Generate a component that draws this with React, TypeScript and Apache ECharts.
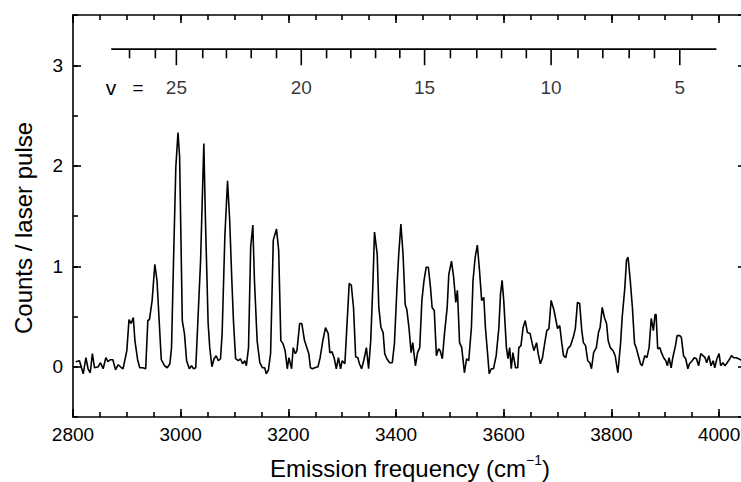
import React, { useEffect, useRef } from 'react';
import * as echarts from 'echarts';

// Spectrum (emission frequency in cm^-1, counts per laser pulse)
const frequency = [
  2805, 2812, 2819, 2824, 2828, 2832, 2836, 2840, 2847, 2851, 2856, 2861, 2865, 2869, 2874, 2879, 2884, 2890, 2893,
  2900, 2904, 2908, 2912, 2915, 2920, 2924, 2930, 2935, 2939, 2942, 2947, 2952, 2956, 2960, 2964, 2970, 2975, 2980,
  2983, 2987, 2991, 2995, 2998, 3003, 3007, 3011, 3016, 3020, 3024, 3028, 3032, 3037, 3043, 3046, 3051, 3054, 3058,
  3062, 3066, 3070, 3074, 3077, 3082, 3087, 3091, 3095, 3098, 3102, 3107, 3111, 3115, 3119, 3122, 3126, 3130, 3134,
  3137, 3142, 3147, 3152, 3156, 3159, 3163, 3167, 3172, 3178, 3182, 3186, 3190, 3194, 3198, 3201, 3206, 3209, 3213,
  3216, 3221, 3225, 3230, 3235, 3238, 3241, 3245, 3249, 3255, 3259, 3264, 3269, 3274, 3277, 3281, 3285, 3289, 3293,
  3297, 3300, 3305, 3308, 3313, 3317, 3321, 3325, 3329, 3332, 3336, 3340, 3345, 3349, 3353, 3357, 3360, 3365, 3368,
  3372, 3376, 3379, 3383, 3388, 3393, 3397, 3402, 3405, 3409, 3413, 3417, 3420, 3424, 3428, 3431, 3436, 3440, 3444,
  3448, 3452, 3456, 3460, 3464, 3467, 3471, 3475, 3479, 3482, 3486, 3490, 3495, 3498, 3503, 3507, 3511, 3514, 3518,
  3522, 3527, 3531, 3535, 3540, 3543, 3547, 3551, 3555, 3559, 3563, 3566, 3570, 3573, 3577, 3581, 3586, 3591, 3594,
  3597, 3600, 3605, 3608, 3611, 3614, 3617, 3622, 3626, 3628, 3632, 3636, 3640, 3644, 3649, 3653, 3656, 3661, 3664,
  3668, 3672, 3676, 3680, 3684, 3688, 3693, 3696, 3700, 3704, 3708, 3711, 3715, 3719, 3724, 3729, 3733, 3737, 3741,
  3745, 3748, 3752, 3756, 3760, 3763, 3767, 3772, 3776, 3779, 3783, 3787, 3791, 3794, 3798, 3803, 3807, 3812, 3817,
  3820, 3825, 3828, 3831, 3835, 3839, 3843, 3846, 3850, 3854, 3857, 3862, 3866, 3870, 3874, 3878, 3881, 3883, 3886,
  3890, 3893, 3897, 3901, 3904, 3907, 3911, 3914, 3919, 3922, 3927, 3930, 3934, 3938, 3942, 3945, 3950, 3954, 3958,
  3962, 3966, 3970, 3974, 3977, 3981, 3985, 3989, 3992, 3996, 4000, 4003, 4007, 4011, 4015, 4020, 4023, 4027, 4032,
  4036, 4040, 4045,
];
const counts = [
  0.05, 0.06, -0.07, 0.09, -0.02, -0.06, 0.13, -0.01, 0.0, 0.04, -0.02, 0.09, 0.05, 0.07, 0.07, -0.03, 0.02, -0.01, -0.02,
  0.16, 0.47, 0.43, 0.49, 0.26, 0.07, -0.01, -0.01, -0.02, 0.46, 0.47, 0.66, 1.02, 0.86, 0.46, 0.07, 0.01, -0.01, 0.03,
  0.19, 1.12, 1.99, 2.33, 2.09, 0.46, 0.33, 0.06, -0.02, 0.01, -0.02, -0.01, 0.46, 1.06, 2.22, 1.46, 0.43, 0.19, 0.0,
  0.08, 0.11, 0.06, 0.08, 0.33, 1.29, 1.85, 1.46, 0.86, 0.46, 0.08, 0.06, 0.08, 0.03, 0.06, 0.01, 0.19, 1.19, 1.41,
  0.86, 0.26, 0.04, -0.01, -0.01, -0.07, -0.03, 0.13, 1.26, 1.37, 1.16, 0.26, 0.23, 0.16, -0.02, 0.09, -0.02, 0.19, 0.13,
  0.16, 0.43, 0.43, 0.26, 0.18, 0.13, -0.01, -0.02, -0.01, 0.0, 0.09, 0.26, 0.39, 0.33, 0.14, 0.15, 0.09, -0.02, 0.09,
  -0.02, 0.06, 0.03, 0.33, 0.83, 0.81, 0.59, 0.1, 0.09, 0.03, -0.02, 0.06, 0.19, -0.02, 0.26, 0.82, 1.34, 1.12, 0.59,
  0.39, 0.34, 0.13, 0.08, 0.04, 0.04, 0.23, 0.82, 1.12, 1.42, 1.12, 0.62, 0.57, 0.39, 0.14, 0.24, 0.01, 0.14, 0.19,
  0.66, 0.86, 0.99, 0.99, 0.79, 0.59, 0.56, 0.11, 0.18, 0.16, 0.08, 0.33, 0.59, 0.92, 1.05, 0.89, 0.64, 0.76, 0.24,
  0.19, -0.06, 0.08, 0.06, 0.39, 0.86, 1.09, 1.21, 0.96, 0.66, 0.69, 0.39, 0.13, -0.07, -0.02, -0.02, 0.11, 0.39, 0.72,
  0.86, 0.66, 0.19, 0.08, 0.19, -0.02, 0.14, -0.01, -0.01, 0.19, 0.21, 0.39, 0.46, 0.34, 0.33, 0.23, 0.16, 0.24, 0.13,
  0.03, 0.09, 0.23, 0.36, 0.38, 0.66, 0.57, 0.49, 0.38, 0.41, 0.23, 0.11, 0.09, 0.18, 0.21, 0.29, 0.38, 0.64, 0.63,
  0.36, 0.24, 0.21, 0.06, 0.04, -0.02, 0.14, 0.19, 0.34, 0.39, 0.59, 0.49, 0.43, 0.26, 0.19, 0.16, 0.11, -0.06, 0.23,
  0.49, 0.79, 1.06, 1.09, 0.86, 0.59, 0.23, 0.19, 0.11, 0.03, 0.01, 0.11, 0.09, 0.19, 0.48, 0.36, 0.52, 0.52, 0.18,
  0.19, 0.14, 0.09, 0.06, 0.01, 0.09, -0.01, 0.09, 0.21, 0.31, 0.31, 0.29, 0.11, 0.08, -0.02, 0.03, 0.06, 0.09, 0.08,
  0.01, 0.13, 0.11, 0.09, 0.04, 0.11, 0.01, 0.06, -0.01, 0.08, 0.13, 0.01, 0.04, 0.01, 0.04, 0.08, 0.11, 0.09, 0.09,
  0.08, 0.07, 0.05,
];

// Axis scales
const X_MIN = 2800;
const X_MAX = 4050;
const X_MAJOR_STEP = 200;
const X_MINOR_STEP = 50;
const Y_MIN = -0.5;
const Y_MAX = 3.5;
const Y_MINOR_STEP = 0.5;

// Vibrational level comb (v = 27 ... 5)
const combFrequency = [
  2905, 2953, 2992, 3041, 3085, 3131, 3178, 3224, 3271, 3316, 3362, 3407, 3453, 3501, 3550, 3596, 3642, 3688,
  3738, 3784, 3833, 3880, 3927,
];
const combLevel = [27, 26, 25, 24, 23, 22, 21, 20, 19, 18, 17, 16, 15, 14, 13, 12, 11, 10, 9, 8, 7, 6, 5];
const combLabelled = [25, 20, 15, 10, 5];
const combSpan = [2871, 3995];

const COMB_Y = 3.16;
const COMB_MAJOR_END = 3.0;
const COMB_MINOR_END = 3.07;
const COMB_LABEL_Y = 2.78;

const BLACK = '#000000';
const LABEL_SIZE = 19;
const LW = 1.6;

export default function App() {
  const ref = useRef<HTMLDivElement>(null);

  useEffect(() => {
    if (!ref.current) return;
    const chart = echarts.init(ref.current, undefined, { renderer: 'svg' });
    const spectrum = frequency.map((f, i) => [f, counts[i]]);

    const combTicks: any[] = [];
    combFrequency.forEach((f, i) => {
      const major = combLabelled.includes(combLevel[i]);
      combTicks.push([f, COMB_Y], [f, major ? COMB_MAJOR_END : COMB_MINOR_END], [f, '-']);
    });
    const combLabels = combFrequency
      .map((f, i) => ({ value: [f, COMB_LABEL_Y], level: combLevel[i] }))
      .filter((d) => combLabelled.includes(d.level))
      .map((d) => ({ value: d.value, name: String(d.level) }));

    const xAxisDef = (position: string, interval: number, len: number, major: boolean, showLabel: boolean) => ({
      type: 'value',
      position,
      min: X_MIN,
      max: X_MAX,
      interval,
      splitLine: { show: false },
      axisLine: { show: major, onZero: false, lineStyle: { color: BLACK, width: LW } },
      axisTick: { show: true, inside: true, length: len, lineStyle: { color: BLACK, width: LW } },
      axisLabel: showLabel
        ? {
            show: true,
            showMaxLabel: false,
            margin: 8,
            fontSize: LABEL_SIZE,
            color: BLACK,
            formatter: (v: number) => (v % X_MAJOR_STEP === 0 ? String(v) : ''),
          }
        : { show: false },
    });
    const yAxisDef = (position: string, interval: number | undefined, len: number, major: boolean, showLabel: boolean) => ({
      type: 'value',
      position,
      min: Y_MIN,
      max: Y_MAX,
      interval,
      splitNumber: 4,
      splitLine: { show: false },
      axisLine: { show: major, onZero: false, lineStyle: { color: BLACK, width: LW } },
      axisTick: { show: true, inside: true, length: len, lineStyle: { color: BLACK, width: LW } },
      axisLabel: showLabel
        ? {
            show: true,
            showMinLabel: false,
            showMaxLabel: false,
            margin: 10,
            fontSize: LABEL_SIZE,
            color: BLACK,
            formatter: (v: number) => (Number.isInteger(v) ? String(v) : ''),
          }
        : { show: false },
    });

    chart.setOption({
      animation: false,
      grid: { left: 73, right: 0, top: 15, bottom: 65 },
      xAxis: [
        xAxisDef('bottom', X_MAJOR_STEP, 8, true, true),
        xAxisDef('bottom', X_MINOR_STEP, 5, false, false),
        xAxisDef('top', X_MAJOR_STEP, 8, true, false),
        xAxisDef('top', X_MINOR_STEP, 5, false, false),
      ],
      yAxis: [
        yAxisDef('left', undefined, 8, true, true),
        yAxisDef('left', Y_MINOR_STEP, 5, false, false),
        yAxisDef('right', undefined, 8, true, false),
        yAxisDef('right', Y_MINOR_STEP, 5, false, false),
      ],
      series: [
        {
          type: 'line',
          data: spectrum,
          symbol: 'none',
          lineStyle: { color: BLACK, width: 1.6 },
        },
        {
          type: 'line',
          data: combSpan.map((f) => [f, COMB_Y]),
          symbol: 'none',
          lineStyle: { color: BLACK, width: LW },
        },
        {
          type: 'line',
          data: combTicks,
          symbol: 'none',
          lineStyle: { color: BLACK, width: LW },
        },
        {
          type: 'scatter',
          data: combLabels,
          symbolSize: 0,
          itemStyle: { color: 'transparent' },
          label: {
            show: true,
            position: 'inside',
            formatter: (p: any) => p.name,
            fontSize: LABEL_SIZE,
            color: BLACK,
          },
        },
      ],
      graphic: [
        {
          type: 'text',
          x: 23,
          y: 228,
          rotation: Math.PI / 2,
          style: {
            text: 'Counts / laser pulse',
            fontSize: 24,
            fill: BLACK,
            align: 'center',
            verticalAlign: 'middle',
          },
        },
        {
          type: 'text',
          x: 410,
          y: 468,
          style: {
            text: 'Emission frequency (cm{sup|\u22121})',
            fontSize: 24,
            lineHeight: 30,
            fill: BLACK,
            align: 'center',
            verticalAlign: 'middle',
            rich: {
              sup: { fontSize: 14, lineHeight: 4, verticalAlign: 'top', fill: BLACK },
            },
          },
        },
        {
          type: 'text',
          x: 111,
          y: 87,
          style: { text: 'v', fontSize: 21, fill: BLACK, align: 'center', verticalAlign: 'middle' },
        },
        {
          type: 'text',
          x: 138,
          y: 87,
          style: { text: '=', fontSize: LABEL_SIZE, fill: BLACK, align: 'center', verticalAlign: 'middle' },
        },
      ],
    });

    return () => chart.dispose();
  }, []);

  return (
    <div style={{ position: 'absolute', left: 0, top: 0, width: 741, height: 482, overflow: 'hidden', background: '#fff' }}>
      <div ref={ref} style={{ width: 746, height: 482 }} />
    </div>
  );
}
